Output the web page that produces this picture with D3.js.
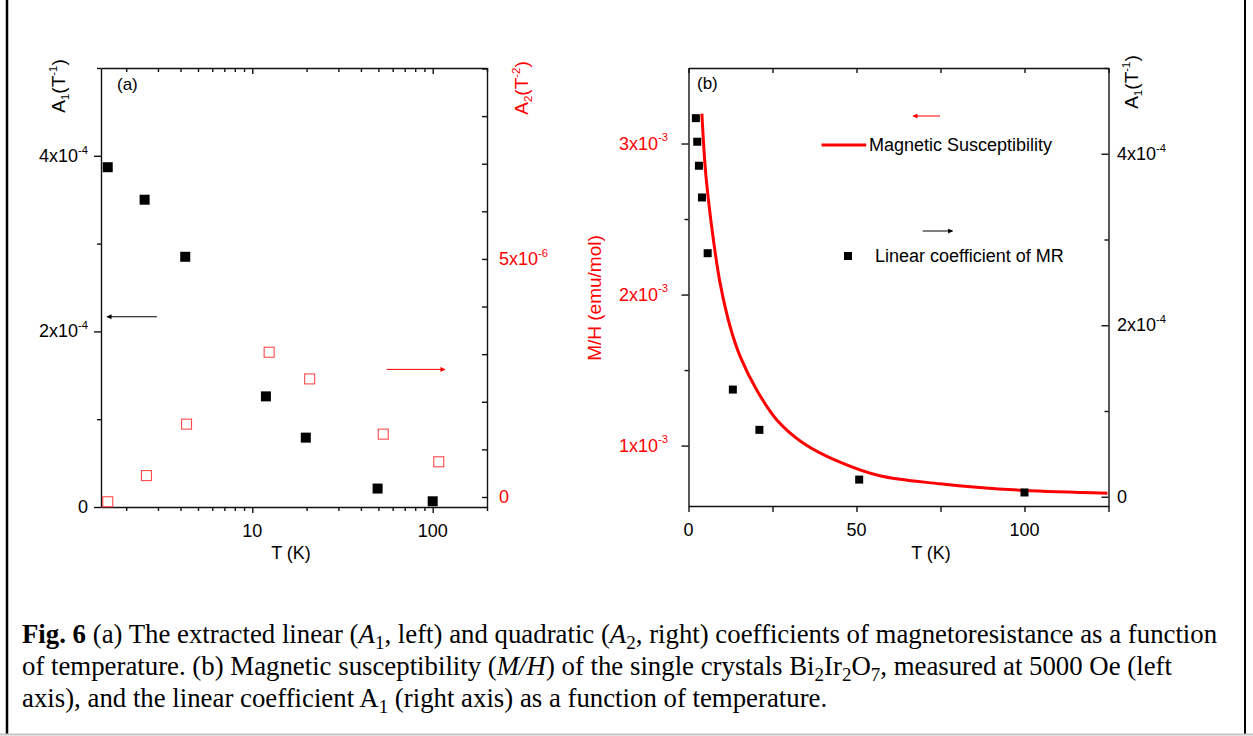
<!DOCTYPE html>
<html>
<head>
<meta charset="utf-8">
<script src="https://cdn.jsdelivr.net/npm/d3@7"></script>
<style>
  body { margin: 0; background: #fff; }
  svg { display: block; }
</style>
</head>
<body>
<svg id="fig" width="1253" height="736"></svg>
<script>
// ---- panel (a): linear (A1) and quadratic (A2) MR coefficients vs T (log axis)
const tA1 = [1.58, 2.53, 4.25, 11.9, 19.8, 49.5, 100];
const a1Vals = [3.87e-4, 3.50e-4, 2.85e-4, 1.26e-4, 0.79e-4, 0.21e-4, 0.065e-4];
const tA2 = [1.58, 2.59, 4.32, 12.4, 20.8, 53.2, 108];
const a2Vals = [-0.1e-6, 0.45e-6, 1.53e-6, 3.04e-6, 2.48e-6, 1.32e-6, 0.74e-6];

// ---- panel (b): susceptibility curve and A1 points vs T (linear axis)
const tChi = [3.98, 4.96, 5.94, 7.43, 9.42, 12.4, 15.4, 20.3, 26.3, 34.2, 45.1, 56.9, 74.8, 86.6, 100, 124.7];
const chiVals = [3.198e-3, 2.845e-3, 2.625e-3, 2.360e-3, 2.074e-3, 1.787e-3, 1.589e-3, 1.368e-3, 1.170e-3,
                 1.016e-3, 0.890e-3, 0.800e-3, 0.747e-3, 0.722e-3, 0.703e-3, 0.685e-3];
const tMR = [2.2, 2.6, 3.1, 4.0, 5.7, 13.2, 21.1, 50.8, 100];
const mrVals = [4.415e-4, 4.14e-4, 3.86e-4, 3.49e-4, 2.84e-4, 1.25e-4, 0.78e-4, 0.20e-4, 0.05e-4];

// ticks
const xATicks = [10, 100];
const xATickLabels = ['10', '100'];
const xAMinor = [2, 3, 4, 5, 6, 7, 8, 9, 20, 30, 40, 50, 60, 70, 80, 90, 200];
const a1Ticks = [0, 2e-4, 4e-4];
const a1TickLabels = ['0', '2x10^-4', '4x10^-4'];
const a1Minor = [1e-4, 3e-4, 5e-4];
const a2Ticks = [0, 5e-6];
const a2TickLabels = ['0', '5x10^-6'];
const a2Minor = [1e-6, 2e-6, 3e-6, 4e-6, 6e-6, 7e-6, 8e-6, 9e-6];

const xBTicks = [0, 50, 100];
const xBTickLabels = ['0', '50', '100'];
const xBMinor = [25, 75, 125];
const chiTicks = [1e-3, 2e-3, 3e-3];
const chiTickLabels = ['1x10^-3', '2x10^-3', '3x10^-3'];
const chiMinor = [1.5e-3, 2.5e-3];
const mrTicks = [0, 2e-4, 4e-4];
const mrTickLabels = ['0', '2x10^-4', '4x10^-4'];
const mrMinor = [1e-4, 3e-4, 5e-4];

const RED = '#ff0000';
const FONT = '"Liberation Sans", Arial, sans-serif';
const SERIF = '"Liberation Serif", "Times New Roman", serif';

const svg = d3.select('#fig');

// frame of the figure box
svg.append('line').attr('x1', 7).attr('x2', 7).attr('y1', 0).attr('y2', 734)
  .attr('stroke', '#000').attr('stroke-width', 2.5);
svg.append('line').attr('x1', 1245).attr('x2', 1245).attr('y1', 0).attr('y2', 734)
  .attr('stroke', '#000').attr('stroke-width', 2);
svg.append('line').attr('x1', 0).attr('x2', 1253).attr('y1', 734.5).attr('y2', 734.5)
  .attr('stroke', '#c4c4c4').attr('stroke-width', 2);

// arrow heads
const defs = svg.append('defs');
[['head-k', '#000'], ['head-r', RED]].forEach(([id, c]) => {
  defs.append('marker').attr('id', id)
    .attr('viewBox', '0 0 10 10').attr('refX', 9).attr('refY', 5)
    .attr('markerWidth', 8).attr('markerHeight', 5).attr('markerUnits', 'userSpaceOnUse')
    .attr('orient', 'auto')
    .append('path').attr('d', 'M0,0 L10,5 L0,10 Z').attr('fill', c);
});

// label like "4x10^-4" -> tspans with superscript
function supText(sel, str, size) {
  const parts = str.split('^');
  sel.append('tspan').text(parts[0]);
  if (parts[1]) {
    sel.append('tspan').attr('dy', -size * 0.45).attr('font-size', size * 0.62).text(parts[1]);
  }
}

// rotated title like A_1(T^-1)
function unitTitle(sel, sub, sup, size) {
  sel.append('tspan').text('A');
  sel.append('tspan').attr('dy', size * 0.2).attr('font-size', size * 0.6).text(sub);
  sel.append('tspan').attr('dy', -size * 0.2).text('(T');
  sel.append('tspan').attr('dy', -size * 0.42).attr('font-size', size * 0.6).text(sup);
  sel.append('tspan').attr('dy', size * 0.42).text(')');
}

function styleAxis(g) {
  g.selectAll('.domain').attr('stroke', '#111').attr('stroke-width', 1.4);
  g.selectAll('.tick line').attr('stroke', '#111').attr('stroke-width', 1.4);
  g.selectAll('.tick text').remove();
}

// one axis = major + minor ticks, no d3 labels (drawn separately with superscripts)
function axis(gen, scale, transform, major, minor, lenMajor, lenMinor) {
  const g = svg.append('g').attr('transform', transform);
  g.call(gen(scale).tickValues(major).tickSize(lenMajor).tickSizeOuter(0).tickFormat(''));
  const m = g.append('g').call(gen(scale).tickValues(minor).tickSize(lenMinor).tickSizeOuter(0).tickFormat(''));
  m.select('.domain').remove();
  styleAxis(g);
  return g;
}

const TICK = 18;

// =========================== panel (a)
const xA = d3.scaleLog().domain([1.45, 200]).range([101, 487]);
const yA1 = d3.scaleLinear().domain([0, 5e-4]).range([507, 68]);
const yA2 = d3.scaleLinear().domain([-0.21e-6, 9.01e-6]).range([507, 68]);

axis(d3.axisBottom, xA, 'translate(0,507)', xATicks, xAMinor, 6, 4);
axis(d3.axisTop, xA, 'translate(0,68)', xATicks, xAMinor, -6, -4);
axis(d3.axisLeft, yA1, 'translate(101,0)', a1Ticks, a1Minor, 7, 4);
axis(d3.axisRight, yA2, 'translate(487,0)', a2Ticks, a2Minor, -5, -5);

xATicks.forEach((v, i) => {
  svg.append('text').attr('x', xA(v)).attr('y', 537).attr('text-anchor', 'middle')
    .attr('font-family', FONT).attr('font-size', TICK).text(xATickLabels[i]);
});
a1Ticks.forEach((v, i) => {
  const t = svg.append('text').attr('x', 88).attr('y', yA1(v) + 6).attr('text-anchor', 'end')
    .attr('font-family', FONT).attr('font-size', TICK);
  supText(t, a1TickLabels[i], TICK);
});
a2Ticks.forEach((v, i) => {
  const t = svg.append('text').attr('x', 499).attr('y', yA2(v) + 6)
    .attr('font-family', FONT).attr('font-size', TICK).attr('fill', RED);
  supText(t, a2TickLabels[i], TICK);
});

svg.append('text').attr('x', 291).attr('y', 559).attr('text-anchor', 'middle')
  .attr('font-family', FONT).attr('font-size', 18).text('T (K)');
svg.append('text').attr('x', 117).attr('y', 90)
  .attr('font-family', FONT).attr('font-size', 17).text('(a)');

unitTitle(svg.append('text').attr('transform', 'translate(65,86) rotate(-90)')
  .attr('text-anchor', 'middle').attr('font-family', FONT).attr('font-size', 19), '1', '-1', 19);
unitTitle(svg.append('text').attr('transform', 'translate(528,88) rotate(-90)')
  .attr('text-anchor', 'middle').attr('font-family', FONT).attr('font-size', 19).attr('fill', RED), '2', '-2', 19);

// A2 open red squares
svg.append('g').selectAll('rect').data(tA2).join('rect')
  .attr('x', (d) => xA(d) - 5).attr('y', (d, i) => yA2(a2Vals[i]) - 5)
  .attr('width', 10).attr('height', 10)
  .attr('fill', 'none').attr('stroke', '#ff4a4a').attr('stroke-width', 1.1);

// A1 filled black squares
svg.append('g').selectAll('rect').data(tA1).join('rect')
  .attr('x', (d) => xA(d) - 5).attr('y', (d, i) => yA1(a1Vals[i]) - 5)
  .attr('width', 10).attr('height', 10).attr('fill', '#000');

// axis pointers
svg.append('line')
  .attr('x1', xA(2.96)).attr('x2', xA(1.565)).attr('y1', yA1(2.167e-4)).attr('y2', yA1(2.167e-4))
  .attr('stroke', '#000').attr('stroke-width', 1).attr('marker-end', 'url(#head-k)');
svg.append('line')
  .attr('x1', xA(55.6)).attr('x2', xA(117)).attr('y1', yA2(2.68e-6)).attr('y2', yA2(2.68e-6))
  .attr('stroke', RED).attr('stroke-width', 1).attr('marker-end', 'url(#head-r)');

// =========================== panel (b)
const xB = d3.scaleLinear().domain([0, 125]).range([688.5, 1108.5]);
const yChi = d3.scaleLinear().domain([0.6e-3, 3.5e-3]).range([506, 68]);
const yMR = d3.scaleLinear().domain([-0.108e-4, 5e-4]).range([506, 68]);

axis(d3.axisBottom, xB, 'translate(0,506)', xBTicks, xBMinor, 6, 6);
axis(d3.axisTop, xB, 'translate(0,68)', xBTicks, xBMinor, -5, -5);
axis(d3.axisLeft, yChi, 'translate(688.5,0)', chiTicks, chiMinor, 7, 4);
axis(d3.axisRight, yMR, 'translate(1108.5,0)', mrTicks, mrMinor, -7, -4);

xBTicks.forEach((v, i) => {
  svg.append('text').attr('x', xB(v)).attr('y', 536).attr('text-anchor', 'middle')
    .attr('font-family', FONT).attr('font-size', TICK).text(xBTickLabels[i]);
});
chiTicks.forEach((v, i) => {
  const t = svg.append('text').attr('x', 668).attr('y', yChi(v) + 6).attr('text-anchor', 'end')
    .attr('font-family', FONT).attr('font-size', TICK).attr('fill', RED);
  supText(t, chiTickLabels[i], TICK);
});
mrTicks.forEach((v, i) => {
  const t = svg.append('text').attr('x', 1117).attr('y', yMR(v) + 6)
    .attr('font-family', FONT).attr('font-size', TICK);
  supText(t, mrTickLabels[i], TICK);
});

svg.append('text').attr('x', 931).attr('y', 559).attr('text-anchor', 'middle')
  .attr('font-family', FONT).attr('font-size', 18).text('T (K)');
svg.append('text').attr('x', 697).attr('y', 89)
  .attr('font-family', FONT).attr('font-size', 17).text('(b)');

svg.append('text').attr('transform', 'translate(601,298) rotate(-90)')
  .attr('text-anchor', 'middle').attr('font-family', FONT).attr('font-size', 19)
  .attr('fill', RED).text('M/H (emu/mol)');
unitTitle(svg.append('text').attr('transform', 'translate(1138,82) rotate(-90)')
  .attr('text-anchor', 'middle').attr('font-family', FONT).attr('font-size', 19), '1', '-1', 19);

// susceptibility curve
const chiLine = d3.line()
  .x((d) => xB(d))
  .y((d, i) => yChi(chiVals[i]))
  .curve(d3.curveCatmullRom.alpha(0.5));
svg.append('path').datum(tChi)
  .attr('d', chiLine).attr('fill', 'none').attr('stroke', RED).attr('stroke-width', 3);

// A1 squares on the right axis
svg.append('g').selectAll('rect').data(tMR).join('rect')
  .attr('x', (d) => xB(d) - 4).attr('y', (d, i) => yMR(mrVals[i]) - 4)
  .attr('width', 8).attr('height', 8).attr('fill', '#000');

// legend
svg.append('line').attr('x1', xB(39.6)).attr('x2', xB(52.9)).attr('y1', 145).attr('y2', 145)
  .attr('stroke', RED).attr('stroke-width', 3);
svg.append('text').attr('x', 869).attr('y', 151)
  .attr('font-family', FONT).attr('font-size', 18).text('Magnetic Susceptibility');
svg.append('rect').attr('x', 844).attr('y', 252).attr('width', 8).attr('height', 8).attr('fill', '#000');
svg.append('text').attr('x', 875).attr('y', 262)
  .attr('font-family', FONT).attr('font-size', 18).text('Linear coefficient of MR');

// axis pointers
svg.append('line')
  .attr('x1', xB(74.85)).attr('x2', xB(66.8)).attr('y1', yChi(3.182e-3)).attr('y2', yChi(3.182e-3))
  .attr('stroke', RED).attr('stroke-width', 1).attr('marker-end', 'url(#head-r)');
svg.append('line')
  .attr('x1', xB(69.7)).attr('x2', xB(78.6)).attr('y1', yMR(3.099e-4)).attr('y2', yMR(3.099e-4))
  .attr('stroke', '#000').attr('stroke-width', 1).attr('marker-end', 'url(#head-k)');

// =========================== caption
const capLines = [
  [['b', 'Fig. 6'], ['', ' (a) The extracted linear ('], ['i', 'A'], ['s', '1'], ['', ', left) and quadratic ('],
   ['i', 'A'], ['s', '2'], ['', ', right) coefficients of magnetoresistance as a function']],
  [['', 'of temperature. (b) Magnetic susceptibility ('], ['i', 'M/H'], ['', ') of the single crystals Bi'],
   ['s', '2'], ['', 'Ir'], ['s', '2'], ['', 'O'], ['s', '7'], ['', ', measured at 5000 Oe (left']],
  [['', 'axis), and the linear coefficient A'], ['s', '1'], ['', ' (right axis) as a function of temperature.']]
];
const capBase = [643, 675, 707];
capLines.forEach((segs, li) => {
  const t = svg.append('text').attr('x', 22).attr('y', capBase[li])
    .attr('font-family', SERIF).attr('font-size', 26.8).attr('fill', '#000');
  let lowered = false;
  segs.forEach(([k, s]) => {
    const sp = t.append('tspan').text(s);
    if (k === 'b') sp.attr('font-weight', 'bold');
    if (k === 'i') sp.attr('font-style', 'italic');
    if (k === 's') { sp.attr('dy', 6).attr('font-size', 19); lowered = true; }
    else if (lowered) { sp.attr('dy', -6); lowered = false; }
  });
});
</script>
</body>
</html>
